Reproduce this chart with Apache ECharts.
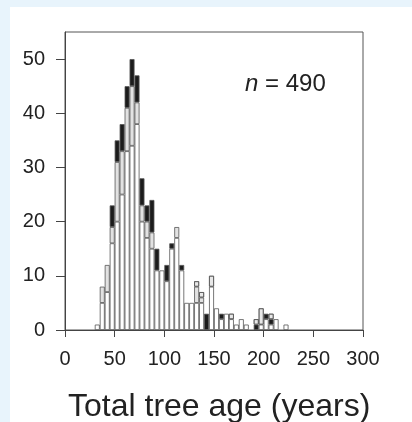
<!DOCTYPE html>
<html>
<head>
<meta charset="utf-8">
<script src="https://cdn.jsdelivr.net/npm/echarts@6/dist/echarts.min.js"></script>
<style>
  html, body { margin: 0; padding: 0; background: #e8f4fc; }
  #chart { width: 412px; height: 422px; }
</style>
</head>
<body>
<div id="chart"></div>
<script>
// bin starts (5-year classes) that hold trees
var binStart = [30,35,40,45,50,55,60,65,70,75,80,85,90,95,100,105,110,115,120,125,
                130,135,140,145,150,155,160,165,170,175,180,185,190,195,200,205,210,215,220];
// counts per class, stacked bottom to top
var whiteCnt = [1,5,7,16,20,25,33,34,38,20,17,15,11,11,9,15,17,11,5,5,
                5,5,0,8,4,2,3,2,1,2,1,0,0,1,2,1,2,0,1];
var greyCnt  = [0,3,5,3,11,8,8,11,4,3,3,3,0,0,0,0,2,0,0,0,
                3,1,0,0,0,0,0,0,0,0,0,0,0,0,0,0,0,0,0];
var blackCnt = [0,0,0,4,4,5,4,5,5,5,3,6,4,0,3,1,0,1,0,0,
                0,0,3,0,0,1,0,0,0,0,0,0,1,0,1,1,0,0,0];
var dotCnt   = [0,0,0,0,0,0,0,0,0,0,0,0,0,0,0,0,0,0,0,0,
                1,1,0,2,0,0,0,1,0,0,0,0,1,3,0,1,0,0,0];
var xTicks = [0, 50, 100, 150, 200, 250, 300];
var yTicks = [0, 10, 20, 30, 40, 50];

// full 0-300 axis in 5-year classes
var classes = [];
for (var c = 0; c < 300; c += 5) classes.push(c);

function classData(arr) {
	return classes.map(function (c) {
		var i = binStart.indexOf(c);
		return (i >= 0 && arr[i] > 0) ? arr[i] : '-';
	});
}

function barSeries(name, arr, color, decal) {
	var s = {
		name: name,
		type: 'bar',
		stack: 'age',
		xAxisIndex: 0,
		barCategoryGap: 0,
		data: classData(arr),
		itemStyle: {
			color: color,
			borderColor: '#555',
			borderWidth: 0.8
		},
		silent: true
	};
	if (decal) s.itemStyle.decal = decal;
	return s;
}

var chart = echarts.init(document.getElementById('chart'));
chart.setOption({
	backgroundColor: '#e8f4fc',
	animation: false,
	textStyle: { fontFamily: 'Liberation Sans, Arial, sans-serif' },
	graphic: [
		{ type: 'rect', z: -10, shape: { x: 10, y: 7, width: 402, height: 415 }, style: { fill: '#ffffff' } },
		{
			type: 'text', left: 245, top: 72,
			style: {
				text: '{i|n} = 490',
				rich: { i: { fontStyle: 'italic', fontSize: 24, fill: '#222' } },
				fontSize: 24, fill: '#222', fontFamily: 'Liberation Sans, Arial, sans-serif'
			}
		},
		{
			type: 'text', left: 68, top: 391,
			style: {
				text: 'Total tree age (years)',
				fontSize: 32, fill: '#222', fontFamily: 'Liberation Sans, Arial, sans-serif'
			}
		}
	],
	grid: {
		left: 65, right: 49, top: 32, bottom: 92,
		show: true, borderColor: '#555', borderWidth: 1, backgroundColor: 'transparent'
	},
	xAxis: [{
		type: 'category', data: classes, boundaryGap: true,
		axisLine: { show: false }, axisTick: { show: false },
		axisLabel: { show: false }, splitLine: { show: false }
	}, {
		type: 'value', min: 0, max: 300, interval: 50, position: 'bottom',
		axisLine: { show: true, onZero: false, lineStyle: { color: '#444', width: 1 } },
		axisTick: { show: true, length: 7, lineStyle: { color: '#444' } },
		axisLabel: { margin: 19, fontSize: 20, color: '#222',
			formatter: function (v) { return xTicks.indexOf(v) >= 0 ? String(v) : ''; } },
		splitLine: { show: false }
	}],
	yAxis: {
		type: 'value', min: 0, max: 55, interval: 10,
		axisLine: { show: true, lineStyle: { color: '#444', width: 1 } },
		axisTick: { show: true, length: 9, lineStyle: { color: '#444' } },
		axisLabel: { margin: 20, fontSize: 20, color: '#222', showMaxLabel: false,
			formatter: function (v) { return yTicks.indexOf(v) >= 0 ? String(v) : ''; } },
		splitLine: { show: false }
	},
	series: [
		barSeries('white', whiteCnt, '#ffffff'),
		barSeries('grey', greyCnt, '#e2e2e2'),
		barSeries('black', blackCnt, '#1c1c1c'),
		barSeries('dotted', dotCnt, '#dcdcdc', {
			symbol: 'circle', symbolSize: 0.7, color: '#ffffff',
			dashArrayX: [2, 0], dashArrayY: [2, 0]
		})
	]
});
</script>
</body>
</html>
